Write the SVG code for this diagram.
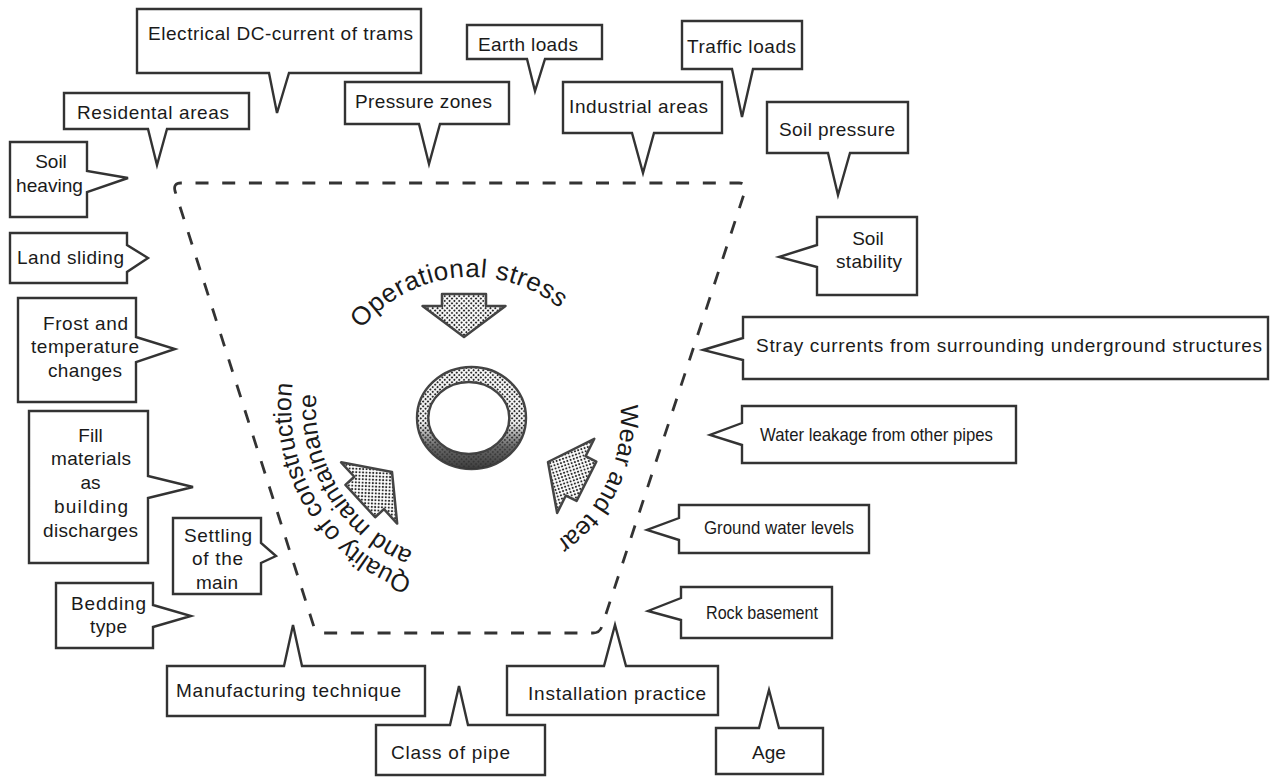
<svg xmlns="http://www.w3.org/2000/svg" xmlns:xlink="http://www.w3.org/1999/xlink" width="1274" height="778" viewBox="0 0 1274 778">
<style>
.box{fill:#fff;stroke:#333;stroke-width:2.4;stroke-linejoin:miter}
.t{font-family:"Liberation Sans",Arial,Helvetica,sans-serif;font-size:19px;fill:#1a1a1a}
.c{text-anchor:middle}
.arc{font-family:"Liberation Sans",Arial,Helvetica,sans-serif;font-size:25px;fill:#1a1a1a}
.arcb{font-family:"Liberation Sans",Arial,Helvetica,sans-serif;font-size:26px;letter-spacing:0.6px;fill:#1a1a1a}
.arrow{fill:url(#dots);stroke:#444;stroke-width:2.5;stroke-linejoin:round}
.dash{fill:none;stroke:#333;stroke-width:2.8;stroke-dasharray:13 13.7}
</style>
<defs>
<pattern id="dots" width="3.4" height="3.4" patternUnits="userSpaceOnUse" patternTransform="rotate(45)">
<rect width="3.4" height="3.4" fill="#fff"/>
<circle cx="1.7" cy="1.7" r="1.05" fill="#2a2a2a"/>
</pattern>
<linearGradient id="shade" x1="0" y1="0" x2="0" y2="1">
<stop offset="0" stop-color="#333" stop-opacity="0"/>
<stop offset="0.55" stop-color="#333" stop-opacity="0.05"/>
<stop offset="0.78" stop-color="#444" stop-opacity="0.8"/>
<stop offset="1" stop-color="#333" stop-opacity="0.95"/>
</linearGradient>
<path id="arr" d="M0,0 L-41.5,-31 L-22,-31 L-22,-43 L22,-43 L22,-31 L41.5,-31 Z"/>
<path id="pOp" d="M361.4,329.3 A141,141 0 0 1 593.1,347.5"/>
<path id="pQ1" d="M412.4,578.2 A180,180 0 0 1 301.9,346.4"/>
<path id="pQ2" d="M412.9,551.7 A155,155 0 0 1 325.3,355"/>
<path id="pW" d="M620.4,404.9 A150,150 0 0 1 497,565.7"/>
</defs>
<rect width="1274" height="778" fill="#fff"/>

<g id="boundary">
<path class="dash" d="M175,191 Q173,183 181,183 L739,183 Q747,183 745,191 L602,626 Q600,633 593,633 L322,633 Q316,633 314,627 Z"/>
</g>

<g id="center">
<g id="pipe">
<path d="M417,418 A54.5,51 0 1 0 526,418 A54.5,51 0 1 0 417,418 Z M428.3,418 A40.5,36 0 1 1 509.3,418 A40.5,36 0 1 1 428.3,418 Z" fill="url(#dots)" fill-rule="evenodd" stroke="#444" stroke-width="2.4"/>
<path d="M417,418 A54.5,51 0 1 0 526,418 A54.5,51 0 1 0 417,418 Z M428.3,418 A40.5,36 0 1 1 509.3,418 A40.5,36 0 1 1 428.3,418 Z" fill="url(#shade)" fill-rule="evenodd"/>
</g>
<g id="operational-stress">
<use xlink:href="#arr" class="arrow" transform="translate(464,337)"/>
<text class="arcb"><textPath xlink:href="#pOp">Operational stress</textPath></text>
</g>
<g id="quality">
<use xlink:href="#arr" class="arrow" transform="translate(392,472) rotate(-132.5)"/>
<text class="arc"><textPath xlink:href="#pQ1">Quality of construction</textPath></text>
<text class="arc"><textPath xlink:href="#pQ2">and maintainance</textPath></text>
</g>
<g id="wear">
<use xlink:href="#arr" class="arrow" transform="translate(548,462) rotate(116.6)"/>
<text class="arc"><textPath xlink:href="#pW">Wear and tear</textPath></text>
</g>
</g>

<g id="n-electrical">
<path class="box" d="M137,9 H421 V73 H289 L277,113 L269,73 H137 Z"/>
<text class="t" x="148" y="40" textLength="265" lengthAdjust="spacing">Electrical DC-current of trams</text>
</g>
<g id="n-residental">
<path class="box" d="M64,93 H249 V129 H167 L157,165 L148,129 H64 Z"/>
<text class="t" x="77" y="119" textLength="152" lengthAdjust="spacing">Residental areas</text>
</g>
<g id="n-soil-heaving">
<path class="box" d="M10,142 H87 V171 L128,178 L87,192 V217 H10 Z"/>
<text class="t c" x="51" y="168">Soil</text>
<text class="t" x="16" y="192" textLength="67" lengthAdjust="spacingAndGlyphs">heaving</text>
</g>
<g id="n-pressure-zones">
<path class="box" d="M345,82 H509 V124 H440 L429,164 L419,124 H345 Z"/>
<text class="t" x="355" y="108" textLength="137" lengthAdjust="spacing">Pressure zones</text>
</g>
<g id="n-earth-loads">
<path class="box" d="M467,25 H602 V59 H545 L535,91 L527,59 H467 Z"/>
<text class="t" x="478" y="51" textLength="100" lengthAdjust="spacing">Earth loads</text>
</g>
<g id="n-industrial">
<path class="box" d="M563,82 H722 V133 H654 L643,173 L632,133 H563 Z"/>
<text class="t" x="569" y="113" textLength="139" lengthAdjust="spacing">Industrial areas</text>
</g>
<g id="n-traffic">
<path class="box" d="M682,21 H802 V69 H753 L742,117 L732,69 H682 Z"/>
<text class="t" x="687" y="53" textLength="109" lengthAdjust="spacing">Traffic loads</text>
</g>
<g id="n-soil-pressure">
<path class="box" d="M767,102 H908 V153 H850 L838,195 L828,153 H767 Z"/>
<text class="t" x="779" y="136" textLength="116" lengthAdjust="spacing">Soil pressure</text>
</g>
<g id="n-soil-stability">
<path class="box" d="M817,217 H917 V295 H817 V267 L779,257 L817,245 Z"/>
<text class="t c" x="868" y="245">Soil</text>
<text class="t" x="836" y="268" textLength="66" lengthAdjust="spacing">stability</text>
</g>
<g id="n-stray">
<path class="box" d="M743,317 H1268 V379 H743 V360 L703,350 L743,338 Z"/>
<text class="t" x="756" y="352" textLength="506" lengthAdjust="spacing">Stray currents from surrounding underground structures</text>
</g>
<g id="n-water">
<path class="box" d="M742,406 H1016 V463 H742 V445 L710,435 L742,423 Z"/>
<text class="t" x="760" y="441" textLength="233" lengthAdjust="spacingAndGlyphs">Water leakage from other pipes</text>
</g>
<g id="n-ground">
<path class="box" d="M679,505 H869 V553 H679 V540 L647,530 L679,518 Z"/>
<text class="t" x="704" y="534" textLength="150" lengthAdjust="spacingAndGlyphs">Ground water levels</text>
</g>
<g id="n-rock">
<path class="box" d="M681,587 H832 V638 H681 V620 L648,611 L681,598 Z"/>
<text class="t" x="706" y="619" textLength="112" lengthAdjust="spacingAndGlyphs">Rock basement</text>
</g>
<g id="n-land">
<path class="box" d="M10,233 H127 V245 L148,258 L127,272 V283 H10 Z"/>
<text class="t" x="17" y="264" textLength="107" lengthAdjust="spacing">Land sliding</text>
</g>
<g id="n-frost">
<path class="box" d="M18,298 H136 V337 L175,349 L136,362 V402 H18 Z"/>
<text class="t" x="43" y="330" textLength="85" lengthAdjust="spacing">Frost and</text>
<text class="t" x="31" y="353" textLength="108" lengthAdjust="spacing">temperature</text>
<text class="t" x="48" y="377" textLength="74" lengthAdjust="spacing">changes</text>
</g>
<g id="n-fill">
<path class="box" d="M29,411 H148 V476 L193,487 L148,498 V563 H29 Z"/>
<text class="t c" x="90.5" y="442">Fill</text>
<text class="t" x="51" y="465" textLength="80" lengthAdjust="spacing">materials</text>
<text class="t c" x="90.5" y="489">as</text>
<text class="t" x="54" y="513" textLength="74" lengthAdjust="spacing">building</text>
<text class="t" x="43" y="537" textLength="95" lengthAdjust="spacing">discharges</text>
</g>
<g id="n-settling">
<path class="box" d="M173,518 H261 V543 L276,556 L261,563 V594 H173 Z"/>
<text class="t" x="184" y="542" textLength="68" lengthAdjust="spacing">Settling</text>
<text class="t" x="192" y="565" textLength="51" lengthAdjust="spacing">of the</text>
<text class="t" x="196" y="589" textLength="42" lengthAdjust="spacing">main</text>
</g>
<g id="n-bedding">
<path class="box" d="M56,583 H153 V605 L191,616 L153,627 V648 H56 Z"/>
<text class="t" x="71" y="610" textLength="75" lengthAdjust="spacing">Bedding</text>
<text class="t" x="90" y="633" textLength="37" lengthAdjust="spacing">type</text>
</g>
<g id="n-manufacturing">
<path class="box" d="M167,666 H284 L293,625 L302,666 H425 V716 H167 Z"/>
<text class="t" x="176" y="697" textLength="225" lengthAdjust="spacing">Manufacturing technique</text>
</g>
<g id="n-class">
<path class="box" d="M376,725 H450 L459,686 L468,725 H545 V775 H376 Z"/>
<text class="t" x="391" y="759" textLength="119" lengthAdjust="spacing">Class of pipe</text>
</g>
<g id="n-installation">
<path class="box" d="M507,666 H604 L615,625 L626,666 H718 V715 H507 Z"/>
<text class="t" x="528" y="700" textLength="178" lengthAdjust="spacing">Installation practice</text>
</g>
<g id="n-age">
<path class="box" d="M716,728 H759 L769,690 L779,728 H823 V774 H716 Z"/>
<text class="t c" x="769" y="759">Age</text>
</g>
</svg>
